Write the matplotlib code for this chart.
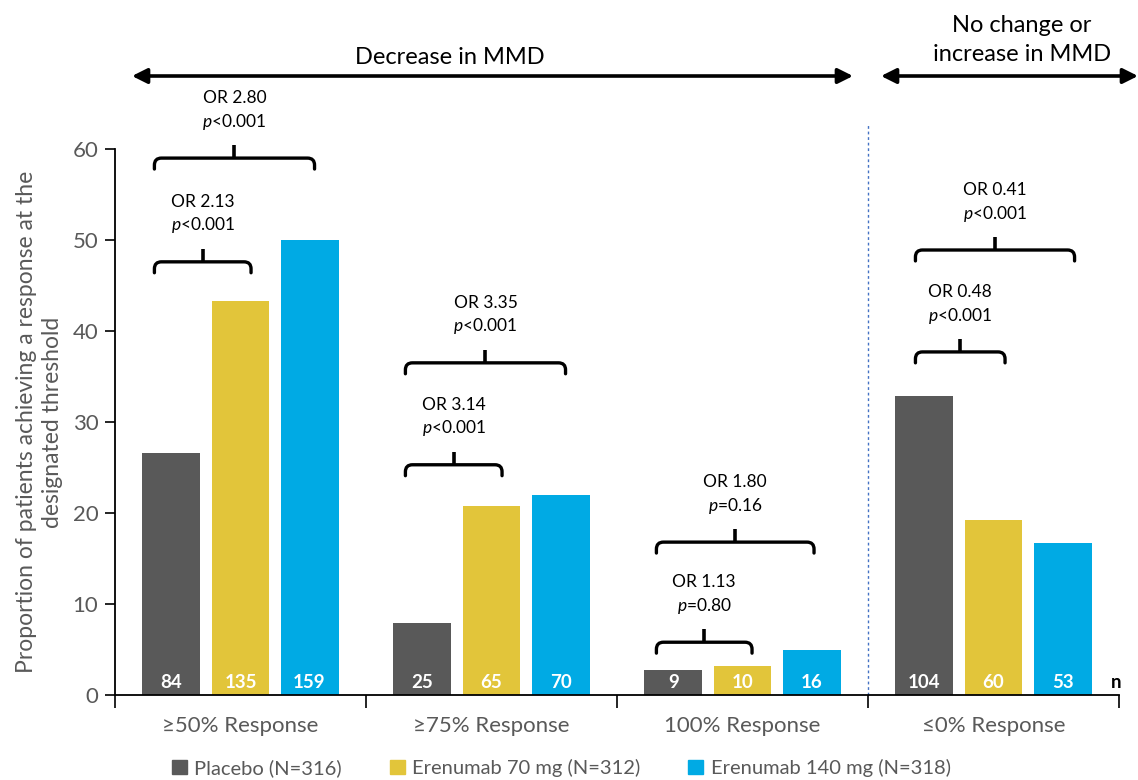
import matplotlib
matplotlib.use("Agg")
import matplotlib.pyplot as plt
from matplotlib.path import Path
from matplotlib.patches import PathPatch, Patch
import numpy as np

plt.rcParams['font.family'] = ['Lato', 'DejaVu Sans']
plt.rcParams['mathtext.fontset'] = 'custom'
plt.rcParams['mathtext.rm'] = 'Lato'
plt.rcParams['mathtext.it'] = 'Lato:italic'

# ---- data ----
categories = ['≥50% Response', '≥75% Response', '100% Response', '≤0% Response']
groups = ['Placebo (N=316)', 'Erenumab 70 mg (N=312)', 'Erenumab 140 mg (N=318)']
placebo_pct = [26.6, 7.9, 2.8, 32.9]
e70_pct = [43.3, 20.8, 3.2, 19.2]
e140_pct = [50.0, 22.0, 5.0, 16.7]
placebo_n = [84, 25, 9, 104]
e70_n = [135, 65, 10, 60]
e140_n = [159, 70, 16, 53]
or70 = ['2.13', '3.14', '1.13', '0.48']
p70 = ['<0.001', '<0.001', '=0.80', '<0.001']
or140 = ['2.80', '3.35', '1.80', '0.41']
p140 = ['<0.001', '<0.001', '=0.16', '<0.001']
bracket70_y = [47.6, 25.3, 5.8, 37.7]
bracket140_y = [59.0, 36.5, 16.8, 48.9]
yticks = [0, 10, 20, 30, 40, 50, 60]

# bracket end offsets relative to the bar centres (axis units)
bracket_left_off = [-0.068, -0.068, -0.068, -0.036]
bracket70_right_off = [0.042, 0.042, 0.038, 0.046]
bracket140_right_off = [0.02, 0.02, 0.01, 0.048]

colors = ['#595959', '#E2C53A', '#00AAE4']
grey_txt = '#595959'

fig = plt.figure(figsize=(11.38, 7.80), dpi=100)
ax = fig.add_axes([115 / 1138, 85 / 780, 1004 / 1138, 546 / 780])

x = np.arange(len(categories))
width = 0.231
step = 0.275
series = [(placebo_pct, placebo_n), (e70_pct, e70_n), (e140_pct, e140_n)]
for k, (vals, ns) in enumerate(series):
    xs = x + (k - 1) * step
    ax.bar(xs, vals, width=width, color=colors[k], label=groups[k], zorder=2)
    for xi, n in zip(xs, ns):
        ax.text(xi, 1.35, str(n), ha='center', va='center', color='white',
                fontsize=13.5, fontweight='bold', zorder=3)

ax.set_xlim(-0.5, 3.5)
ax.set_ylim(0, 60)
ax.set_yticks(yticks)
ax.tick_params(axis='y', direction='out', length=7, width=1.2, colors='black',
               labelcolor=grey_txt, labelsize=16, pad=5)
ax.set_xticks(x)
ax.set_xticklabels(categories)
ax.tick_params(axis='x', which='major', length=0, labelcolor=grey_txt,
               labelsize=16, pad=15)
ax.set_xticks([-0.5, 0.5, 1.5, 2.5, 3.5], minor=True)
ax.tick_params(axis='x', which='minor', direction='out', length=9, width=1.2)
for s in ['top', 'right']:
    ax.spines[s].set_visible(False)
for s in ['left', 'bottom']:
    ax.spines[s].set_linewidth(1.3)

ax.set_ylabel('Proportion of patients achieving a response at the\ndesignated threshold',
              color=grey_txt, fontsize=16.5, linespacing=1.3)
ax.yaxis.set_label_coords(-0.052, 0.5)

# "n" marker at the end of the axis
ax.text(3.49, 1.35, 'n', ha='center', va='center', fontsize=13.5,
        fontweight='bold', color='black')

# dashed separator between decrease and no-change groups
ax.plot([2.5, 2.5], [0, 62.6], ls=(0, (2, 2)), lw=1.0, color='#4472C4',
        clip_on=False, zorder=1)


def bracket(x_left, x_right, y):
    rx, ry = 0.028, 0.77
    drop, rise = 1.2, 1.45
    verts = [(x_left, y - drop), (x_left, y - ry), (x_left, y), (x_left + rx, y),
             (x_right - rx, y), (x_right, y), (x_right, y - ry), (x_right, y - drop)]
    codes = [Path.MOVETO, Path.LINETO, Path.CURVE3, Path.CURVE3,
             Path.LINETO, Path.CURVE3, Path.CURVE3, Path.LINETO]
    ax.add_patch(PathPatch(Path(verts, codes), fill=False, lw=2.4, ec='black',
                           capstyle='round', joinstyle='round', clip_on=False, zorder=4))
    xc = (x_left + x_right) / 2
    ax.plot([xc, xc], [y, y + rise], color='black', lw=2.6, solid_capstyle='butt',
            clip_on=False, zorder=4)
    return xc


for i in range(len(categories)):
    left = x[i] - step + bracket_left_off[i]
    specs = [(bracket70_y[i], or70[i], p70[i], x[i] + bracket70_right_off[i]),
             (bracket140_y[i], or140[i], p140[i], x[i] + step + bracket140_right_off[i])]
    for yb, o, p, right in specs:
        xc = bracket(left, right, yb)
        ax.text(xc, yb + 6.6, f'OR {o}', ha='center', va='center', fontsize=12.5)
        ax.text(xc, yb + 4.0, f'$p${p}', ha='center', va='center', fontsize=12.5)


# top direction arrows
def fig_pt(px, py):
    return (px / 1138, 1 - py / 780)


arrow_kw = dict(arrowstyle='<|-|>,head_length=0.9,head_width=0.45', lw=2.6,
                color='black', shrinkA=0, shrinkB=0)
ax.annotate('', xy=fig_pt(132, 76), xytext=fig_pt(853, 76), xycoords='figure fraction',
            textcoords='figure fraction', arrowprops=arrow_kw, annotation_clip=False)
ax.annotate('', xy=fig_pt(881, 76), xytext=fig_pt(1138, 76), xycoords='figure fraction',
            textcoords='figure fraction', arrowprops=arrow_kw, annotation_clip=False)
fig.text(*fig_pt(450, 58), 'Decrease in MMD', ha='center', va='center', fontsize=17)
fig.text(*fig_pt(1022, 40), 'No change or\nincrease in MMD', ha='center', va='center',
         fontsize=17, linespacing=1.45)

handles = [Patch(color=c) for c in colors]
fig.legend(handles, groups, loc='center', bbox_to_anchor=(0.493, 12 / 780), ncol=3,
           frameon=False, fontsize=14.5, handlelength=0.75, handleheight=0.75,
           handletextpad=0.35, columnspacing=2.4, labelcolor=grey_txt, borderpad=0)

fig.savefig('out.png', dpi=100)
